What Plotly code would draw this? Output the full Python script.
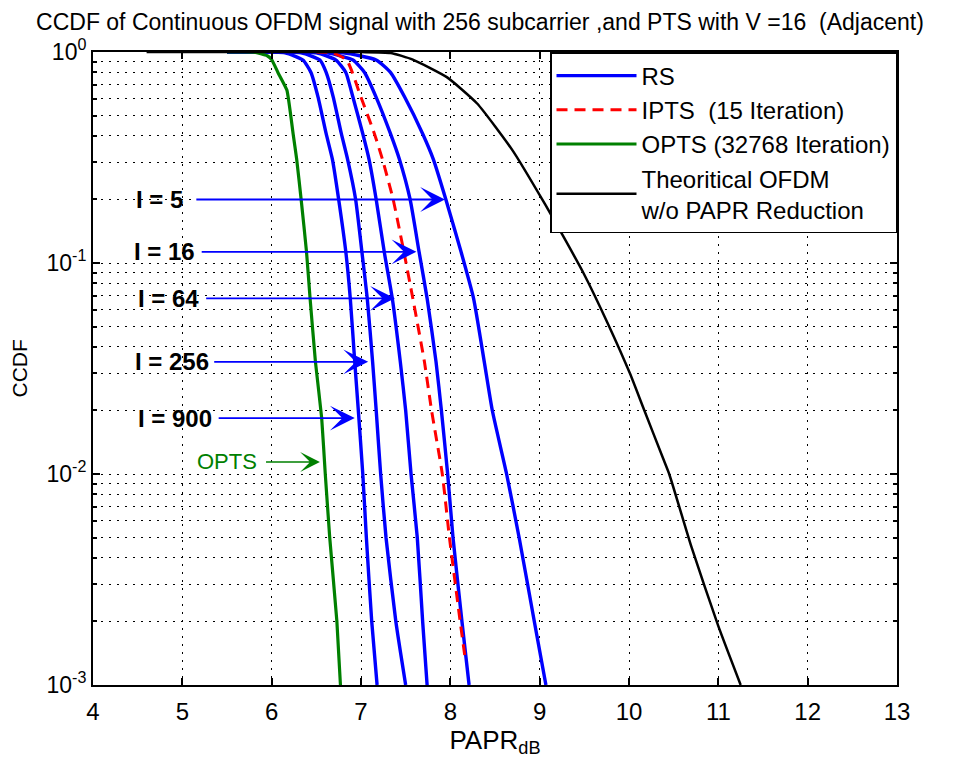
import numpy as np
import plotly.graph_objects as go

# ---------------- data ----------------
theo_x = [4.6, 6.0, 7.0, 7.33, 7.58, 7.96, 8.30, 8.70, 9.06, 9.21, 9.49, 9.76, 10.01, 10.16, 10.38, 10.45, 10.70, 11.0, 11.25]
theo_y = [1.0, 1.0, 0.999, 0.99, 0.92, 0.76, 0.57, 0.34, 0.19, 0.147, 0.0897, 0.052, 0.030, 0.0206, 0.0119, 0.010, 0.0045, 0.0019, 0.001]

opts_x = [5.5, 5.8, 5.95, 6.0, 6.07, 6.17, 6.24, 6.28, 6.33, 6.39, 6.43, 6.49, 6.56, 6.60, 6.65, 6.73, 6.77]
opts_y = [1.0, 0.999, 0.96, 0.92, 0.80, 0.66, 0.41, 0.31, 0.2, 0.113, 0.068, 0.034, 0.0184, 0.01, 0.005, 0.002, 0.001]

ipts_x = [6.5, 6.68, 6.84, 7.0, 7.15, 7.24, 7.36, 7.48, 7.58, 7.71, 7.79, 7.91, 7.99, 8.11, 8.17]
ipts_y = [1.0, 0.99, 0.916, 0.61, 0.41, 0.31, 0.2, 0.113, 0.068, 0.034, 0.02, 0.01, 0.005, 0.002, 0.0013]

rs_levels = ["I = 900", "I = 256", "I = 64", "I = 16", "I = 5"]
rs_y = [1.0, 0.99, 0.916, 0.80, 0.61, 0.41, 0.31, 0.2, 0.113, 0.068, 0.034, 0.02, 0.01, 0.005, 0.002, 0.001]
rs_i900_x = [5.5, 6.15, 6.35, 6.44, 6.52, 6.61, 6.68, 6.75, 6.83, 6.88, 6.93, 6.97, 7.02, 7.06, 7.12, 7.18]
rs_i256_x = [5.5, 6.33, 6.54, 6.61, 6.69, 6.78, 6.85, 6.94, 7.01, 7.07, 7.13, 7.17, 7.22, 7.28, 7.39, 7.50]
rs_i64_x = [5.5, 6.50, 6.72, 6.83, 6.91, 7.02, 7.09, 7.17, 7.26, 7.35, 7.44, 7.50, 7.56, 7.63, 7.69, 7.74]
rs_i16_x = [5.5, 6.62, 6.91, 7.04, 7.17, 7.33, 7.43, 7.55, 7.65, 7.74, 7.84, 7.90, 7.97, 8.03, 8.13, 8.21]
rs_i5_x = [5.5, 6.80, 7.17, 7.33, 7.49, 7.69, 7.81, 7.95, 8.12, 8.26, 8.38, 8.47, 8.63, 8.77, 8.94, 9.07]
rs_xs = [rs_i900_x, rs_i256_x, rs_i64_x, rs_i16_x, rs_i5_x]

# annotation arrows: (tip x, tail x, text x, level y)
arrow_tip_x = [6.93, 7.08, 7.38, 7.62, 7.94]
arrow_tail_x = [5.39, 5.34, 5.25, 5.20, 5.14]
arrow_text_x = [4.92, 4.88, 4.85, 4.80, 4.74]
arrow_y = [0.0184, 0.034, 0.068, 0.113, 0.2]
opts_arrow = dict(tip=6.54, tail=5.92, text=5.50, y=0.0114)

x_ticks = list(range(4, 14))
y_tickvals = [0.001, 0.01, 0.1, 1]
y_ticktext = ["10<sup>-3</sup>", "10<sup>-2</sup>", "10<sup>-1</sup>", "10<sup>0</sup>"]

FONT = "Liberation Sans, Arial, sans-serif"
BLUE = "#0000ff"
RED = "#ff0000"
GREEN = "#008000"

fig = go.Figure()
for i, (xs, lab) in enumerate(zip(rs_xs, rs_levels)):
    fig.add_trace(go.Scatter(x=xs, y=rs_y, mode="lines", name="RS",
                             line=dict(color=BLUE, width=3.4, shape="spline", smoothing=0.5),
                             showlegend=(i == 0), legendrank=1))
fig.add_trace(go.Scatter(x=ipts_x, y=ipts_y, mode="lines", name="IPTS  (15 Iteration)",
                         line=dict(color=RED, width=3, dash="11px,7px", shape="spline", smoothing=0.5),
                         legendrank=2))
fig.add_trace(go.Scatter(x=opts_x, y=opts_y, mode="lines", name="OPTS (32768 Iteration)",
                         line=dict(color=GREEN, width=3.2, shape="spline", smoothing=0.4),
                         legendrank=3))
fig.add_trace(go.Scatter(x=theo_x, y=theo_y, mode="lines",
                         name="Theoritical OFDM<br>w/o PAPR Reduction",
                         line=dict(color="black", width=2.5, shape="spline", smoothing=0.5),
                         legendrank=4))

ann = []
for tip, tail, tx, yv, lab in zip(arrow_tip_x, arrow_tail_x, arrow_text_x, arrow_y, rs_levels):
    ly = float(np.log10(yv))
    ann.append(dict(x=tip, y=ly, ax=tail, ay=ly, xref="x", yref="y", axref="x", ayref="y",
                    text="", showarrow=True, arrowhead=3, arrowsize=2.3, arrowwidth=1.8,
                    arrowcolor=BLUE))
    ann.append(dict(x=tx, y=ly, xref="x", yref="y", text="<b>" + lab + "</b>", showarrow=False,
                    font=dict(family=FONT, size=24, color="black")))
ly = float(np.log10(opts_arrow["y"]))
ann.append(dict(x=opts_arrow["tip"], y=ly, ax=opts_arrow["tail"], ay=ly, xref="x", yref="y",
                axref="x", ayref="y", text="", showarrow=True, arrowhead=3, arrowsize=2.2,
                arrowwidth=1.5, arrowcolor=GREEN))
ann.append(dict(x=opts_arrow["text"], y=ly, xref="x", yref="y", text="OPTS", showarrow=False,
                font=dict(family=FONT, size=22, color=GREEN)))
# y-axis title placed like the reference (far left)
ann.append(dict(x=-0.092, y=0.5, xref="paper", yref="paper", text="CCDF", showarrow=False,
                textangle=-90, xanchor="center", yanchor="middle",
                font=dict(family=FONT, size=21, color="black")))

grid_dash = "2px,6px"
fig.update_layout(
    template="none",
    width=962, height=757,
    paper_bgcolor="white", plot_bgcolor="white",
    margin=dict(l=85, r=73, t=44, b=80),
    font=dict(family=FONT, size=22, color="black"),
    title=dict(text="CCDF of Continuous OFDM signal with 256 subcarrier ,and PTS with V =16  (Adjacent)",
               x=0.4906, xanchor="center", y=0.992, yanchor="top",
               font=dict(family=FONT, size=23, color="black")),
    xaxis=dict(range=[4, 13], tickvals=x_ticks, ticks="inside", ticklen=7, tickwidth=1.5,
               tickcolor="black", showline=True, linecolor="black", linewidth=2, mirror="allticks",
               showgrid=True, gridcolor="black", gridwidth=1, griddash=grid_dash, zeroline=False,
               automargin=False, ticklabelstandoff=4,
               tickfont=dict(size=24), title=dict(text="PAPR<sub>dB</sub>", standoff=6,
                                                  font=dict(size=26))),
    yaxis=dict(type="log", range=[-3, 0], tickvals=y_tickvals, ticktext=y_ticktext,
               ticks="inside", ticklen=7, tickwidth=1.5, tickcolor="black",
               showline=True, linecolor="black", linewidth=2, mirror="allticks",
               showgrid=True, gridcolor="black", gridwidth=1, griddash=grid_dash,
               automargin=False, zeroline=False,
               minor=dict(dtick="D1", ticks="inside", ticklen=4, tickcolor="black",
                          showgrid=True, gridcolor="black", gridwidth=1, griddash=grid_dash),
               tickfont=dict(size=23)),
    legend=dict(x=1, xanchor="right", y=1, yanchor="top", bgcolor="white",
                bordercolor="black", borderwidth=1.5, font=dict(size=24), itemwidth=80,
                tracegroupgap=0),
    annotations=ann,
)
fig.write_html("out.html")
